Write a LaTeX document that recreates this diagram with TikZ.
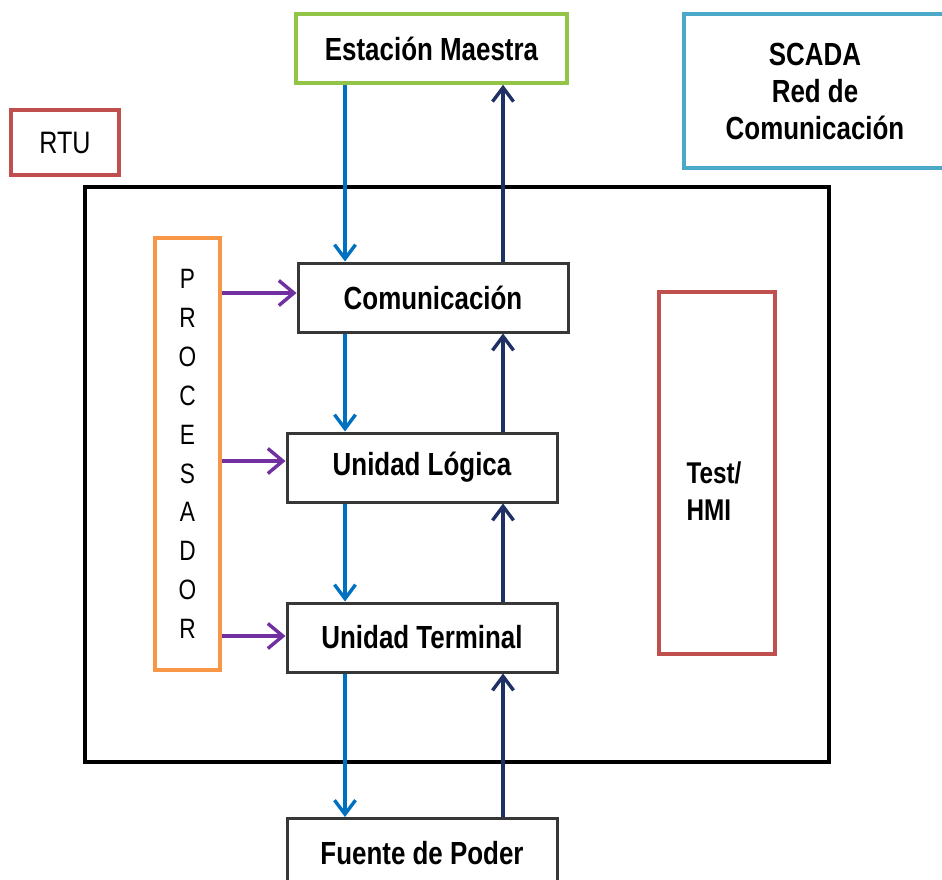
\documentclass[tikz,border=0pt]{standalone}
\usepackage{fontspec}
\setmainfont{Liberation Sans}[FakeStretch=0.81]
\usetikzlibrary{arrows.meta}
\definecolor{cgreen}{RGB}{146,196,72}
\definecolor{cteal}{RGB}{75,168,200}
\definecolor{cred}{RGB}{192,80,77}
\definecolor{corange}{RGB}{247,150,70}
\definecolor{cframe}{RGB}{55,55,55}
\definecolor{cdown}{RGB}{0,112,192}
\definecolor{cup}{RGB}{31,48,100}
\definecolor{cpurple}{RGB}{112,48,160}
\tikzset{
  lbl/.style={font=\fontsize{32}{37}\selectfont\bfseries},
  unitbox/.style={draw=cframe, line width=3pt, minimum width=270pt, minimum height=69pt, inner sep=0pt, lbl},
  flowdown/.style={draw=cdown, line width=3.4pt, -{Straight Barb[length=14pt,width=21pt]}},
  flowup/.style={draw=cup, line width=3.4pt, -{Straight Barb[length=14pt,width=21pt]}},
  ctrl/.style={draw=cpurple, line width=3.4pt, -{Straight Barb[length=15pt,width=25pt]}},
}
\begin{document}
\begin{tikzpicture}[x=1pt,y=-1pt]
\useasboundingbox (0,0) rectangle (942,880);
\fill[white] (0,0) rectangle (942,880);

% outer RTU enclosure
\draw[black, line width=4pt] (85,187) rectangle (829,762);

% external blocks
\node[draw=cgreen, line width=3.5pt, minimum width=271pt, minimum height=69pt, inner sep=0pt, lbl] (est) at (431.5,48.5) {Estación Maestra};
\node[draw=cteal, line width=3.5pt, minimum width=262pt, minimum height=154pt, inner sep=0pt, lbl, align=center] (scada) at (815,91) {SCADA\\Red de\\Comunicación};
\node[draw=cred, line width=3.5pt, minimum width=108pt, minimum height=65pt, inner sep=0pt, font=\fontsize{31}{36}\selectfont] (rtu) at (65,142.5) {RTU};

% processor column
\node[draw=corange, line width=3.5pt, minimum width=65pt, minimum height=432pt, inner sep=0pt, align=center, font=\fontsize{28}{38.9}\selectfont] (proc) at (187.5,454) {P\\R\\O\\C\\E\\S\\A\\D\\O\\R};

% processing chain
\node[unitbox] (com) at (433,297.5) {Comunicación};
\node[unitbox] (log) at (422,467.5) {Unidad Lógica};
\node[unitbox] (ter) at (422,637.5) {Unidad Terminal};
\node[unitbox] (fue) at (422,853) {Fuente de Poder};

% test / HMI panel
\node[draw=cred, line width=3.5pt, minimum width=116pt, minimum height=362pt, inner sep=0pt] (hmi) at (717,473) {};
\node[align=left, font=\fontsize{30}{37}\selectfont\bfseries] (hmitxt) at (714,491) {Test/\\HMI};

% data paths
\coordinate (dn) at (345,0);
\coordinate (up) at (503,0);
\draw[flowdown] (est.south -| dn) -- (com.north -| dn);
\draw[flowdown] (com.south -| dn) -- (log.north -| dn);
\draw[flowdown] (log.south -| dn) -- (ter.north -| dn);
\draw[flowdown] (ter.south -| dn) -- (fue.north -| dn);
\draw[flowup] (com.north -| up) -- (est.south -| up);
\draw[flowup] (log.north -| up) -- (com.south -| up);
\draw[flowup] (ter.north -| up) -- (log.south -| up);
\draw[flowup] (fue.north -| up) -- (ter.south -| up);

% processor control lines
\draw[ctrl] (proc.east |- 0,293) -- (com.west |- 0,293);
\draw[ctrl] (proc.east |- 0,461) -- (log.west |- 0,461);
\draw[ctrl] (proc.east |- 0,636) -- (ter.west |- 0,636);
\end{tikzpicture}
\end{document}
